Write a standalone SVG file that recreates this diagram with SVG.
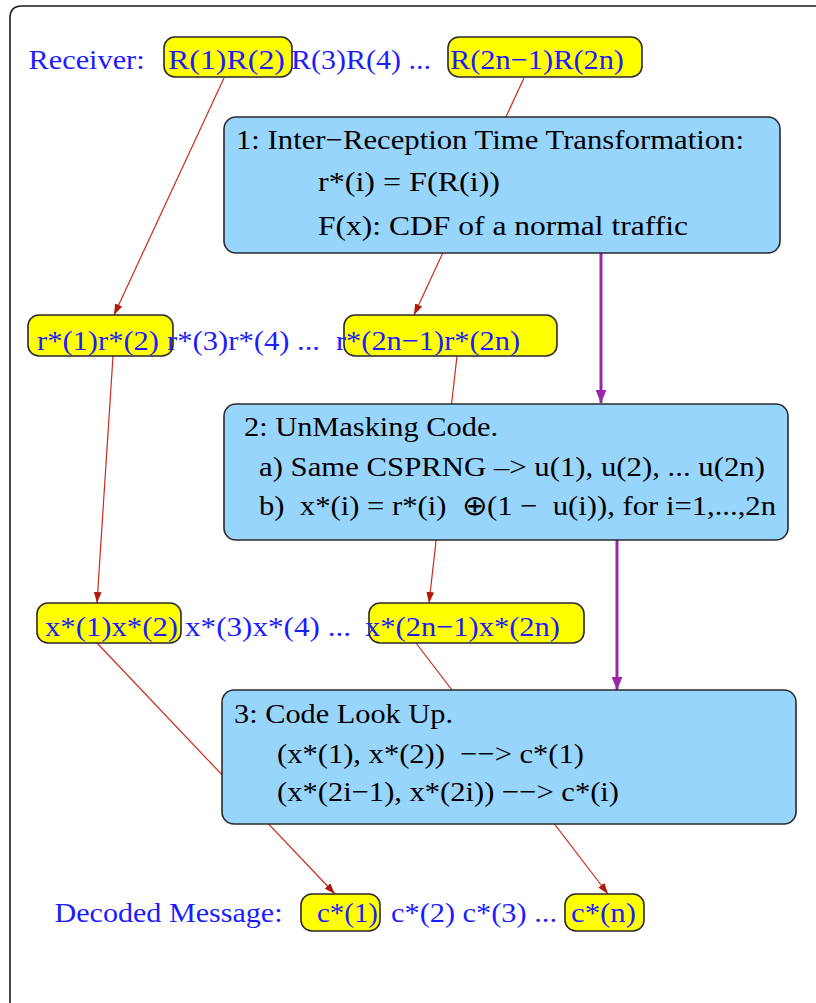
<svg xmlns="http://www.w3.org/2000/svg" width="816" height="1003" viewBox="0 0 816 1003">
<defs>
<style>
text{font-family:"Liberation Serif","Times New Roman",serif;font-size:28px;white-space:pre}
.lbl{fill:#1c1cff}
.bt{fill:#000}
.pill{fill:#ffff00;stroke:#2a2a2a;stroke-width:1.6}
.box{fill:#98d5fd;stroke:#2a2a2a;stroke-width:1.6}
.red{stroke:#cc2a1a;stroke-width:1.2;fill:none}
.pur{stroke:#9b27a8;stroke-width:3;fill:none}
</style>
<marker id="ah" markerUnits="userSpaceOnUse" viewBox="0 0 10 7" refX="10" refY="3.5" markerWidth="11" markerHeight="8" orient="auto">
<path d="M0,0 L10,3.5 L0,7 z" fill="#b01a0a"/>
</marker>
<marker id="ap" markerUnits="userSpaceOnUse" viewBox="0 0 12 10" refX="12" refY="5" markerWidth="13" markerHeight="11" orient="auto">
<path d="M0,0 L12,5 L0,10 z" fill="#9b27a8"/>
</marker>
</defs>
<rect width="816" height="1003" fill="#fff"/>
<path d="M10,1003 L10,18 Q10,6 22,6 L816,6" fill="none" stroke="#1a1a1a" stroke-width="1.6"/>

<g id="connectors">
<line class="red" x1="224" y1="78" x2="114" y2="315" marker-end="url(#ah)"/>
<line class="red" x1="524" y1="78" x2="414" y2="315" marker-end="url(#ah)"/>
<line class="red" x1="113" y1="356" x2="97" y2="603" marker-end="url(#ah)"/>
<line class="red" x1="457" y1="356" x2="429" y2="603" marker-end="url(#ah)"/>
<line class="red" x1="97" y1="643" x2="335" y2="894" marker-end="url(#ah)"/>
<line class="red" x1="416" y1="643" x2="608" y2="894" marker-end="url(#ah)"/>
<line class="pur" x1="601" y1="253" x2="601" y2="403" marker-end="url(#ap)"/>
<line class="pur" x1="617" y1="540" x2="617" y2="690" marker-end="url(#ap)"/>
</g>

<g id="row-receiver">
<text class="lbl" x="28.6" y="69" textLength="116" lengthAdjust="spacingAndGlyphs">Receiver:</text>
<text class="lbl" x="291" y="69" textLength="140" lengthAdjust="spacingAndGlyphs">R(3)R(4) ...</text>
</g>
<g id="pill-R12">
<rect class="pill" x="164" y="37" width="128" height="40" rx="11"/>
<text class="lbl" x="168" y="69" textLength="117" lengthAdjust="spacingAndGlyphs">R(1)R(2)</text>
</g>
<g id="pill-R2n">
<rect class="pill" x="448" y="37" width="194" height="40" rx="11"/>
<text class="lbl" x="450" y="69" textLength="174" lengthAdjust="spacingAndGlyphs">R(2n−1)R(2n)</text>
</g>

<g id="box1">
<rect class="box" x="224" y="117" width="556" height="136" rx="12"/>
<text class="bt" x="236" y="149" textLength="508" lengthAdjust="spacingAndGlyphs">1: Inter−Reception Time Transformation:</text>
<text class="bt" x="318" y="191" textLength="182" lengthAdjust="spacingAndGlyphs">r*(i) = F(R(i))</text>
<text class="bt" x="318" y="235" textLength="370" lengthAdjust="spacingAndGlyphs">F(x): CDF of a normal traffic</text>
</g>

<g id="pill-r12">
<rect class="pill" x="28" y="315" width="145" height="41" rx="11"/>
<text class="lbl" x="37" y="350" textLength="122" lengthAdjust="spacingAndGlyphs">r*(1)r*(2)</text>
</g>
<g id="row-r">
<text class="lbl" x="167" y="350" textLength="153" lengthAdjust="spacingAndGlyphs">r*(3)r*(4) ...</text>
</g>
<g id="pill-r2n">
<rect class="pill" x="344" y="315" width="213" height="41" rx="11"/>
<text class="lbl" x="336" y="350" textLength="184" lengthAdjust="spacingAndGlyphs">r*(2n−1)r*(2n)</text>
</g>

<g id="box2">
<rect class="box" x="224" y="404" width="564" height="136" rx="12"/>
<text class="bt" x="244" y="436" textLength="254" lengthAdjust="spacingAndGlyphs">2: UnMasking Code.</text>
<text class="bt" x="259" y="476" textLength="506" lengthAdjust="spacingAndGlyphs">a) Same CSPRNG –&gt; u(1), u(2), ... u(2n)</text>
<text class="bt" x="259" y="515" textLength="517" lengthAdjust="spacingAndGlyphs">b)  x*(i) = r*(i)  ⊕(1 −  u(i)), for i=1,...,2n</text>
</g>

<g id="pill-x12">
<rect class="pill" x="37" y="603" width="144" height="40" rx="11"/>
<text class="lbl" x="45" y="636" textLength="133" lengthAdjust="spacingAndGlyphs">x*(1)x*(2)</text>
</g>
<g id="row-x">
<text class="lbl" x="185" y="636" textLength="166" lengthAdjust="spacingAndGlyphs">x*(3)x*(4) ...</text>
</g>
<g id="pill-x2n">
<rect class="pill" x="369" y="603" width="215" height="40" rx="11"/>
<text class="lbl" x="365" y="636" textLength="195" lengthAdjust="spacingAndGlyphs">x*(2n−1)x*(2n)</text>
</g>

<g id="box3">
<rect class="box" x="222" y="690" width="574" height="134" rx="12"/>
<text class="bt" x="234" y="723" textLength="219" lengthAdjust="spacingAndGlyphs">3: Code Look Up.</text>
<text class="bt" x="277" y="763" textLength="307" lengthAdjust="spacingAndGlyphs">(x*(1), x*(2))  −−&gt; c*(1)</text>
<text class="bt" x="277" y="801" textLength="342" lengthAdjust="spacingAndGlyphs">(x*(2i−1), x*(2i)) −−&gt; c*(i)</text>
</g>

<g id="row-decoded">
<text class="lbl" x="54.5" y="922" textLength="228" lengthAdjust="spacingAndGlyphs">Decoded Message:</text>
<text class="lbl" x="391" y="922" textLength="166" lengthAdjust="spacingAndGlyphs">c*(2) c*(3) ...</text>
</g>
<g id="pill-c1">
<rect class="pill" x="301" y="894" width="79" height="37" rx="11"/>
<text class="lbl" x="317" y="922" textLength="61" lengthAdjust="spacingAndGlyphs">c*(1)</text>
</g>
<g id="pill-cn">
<rect class="pill" x="565" y="894" width="79" height="37" rx="11"/>
<text class="lbl" x="571" y="922" textLength="65" lengthAdjust="spacingAndGlyphs">c*(n)</text>
</g>
</svg>
